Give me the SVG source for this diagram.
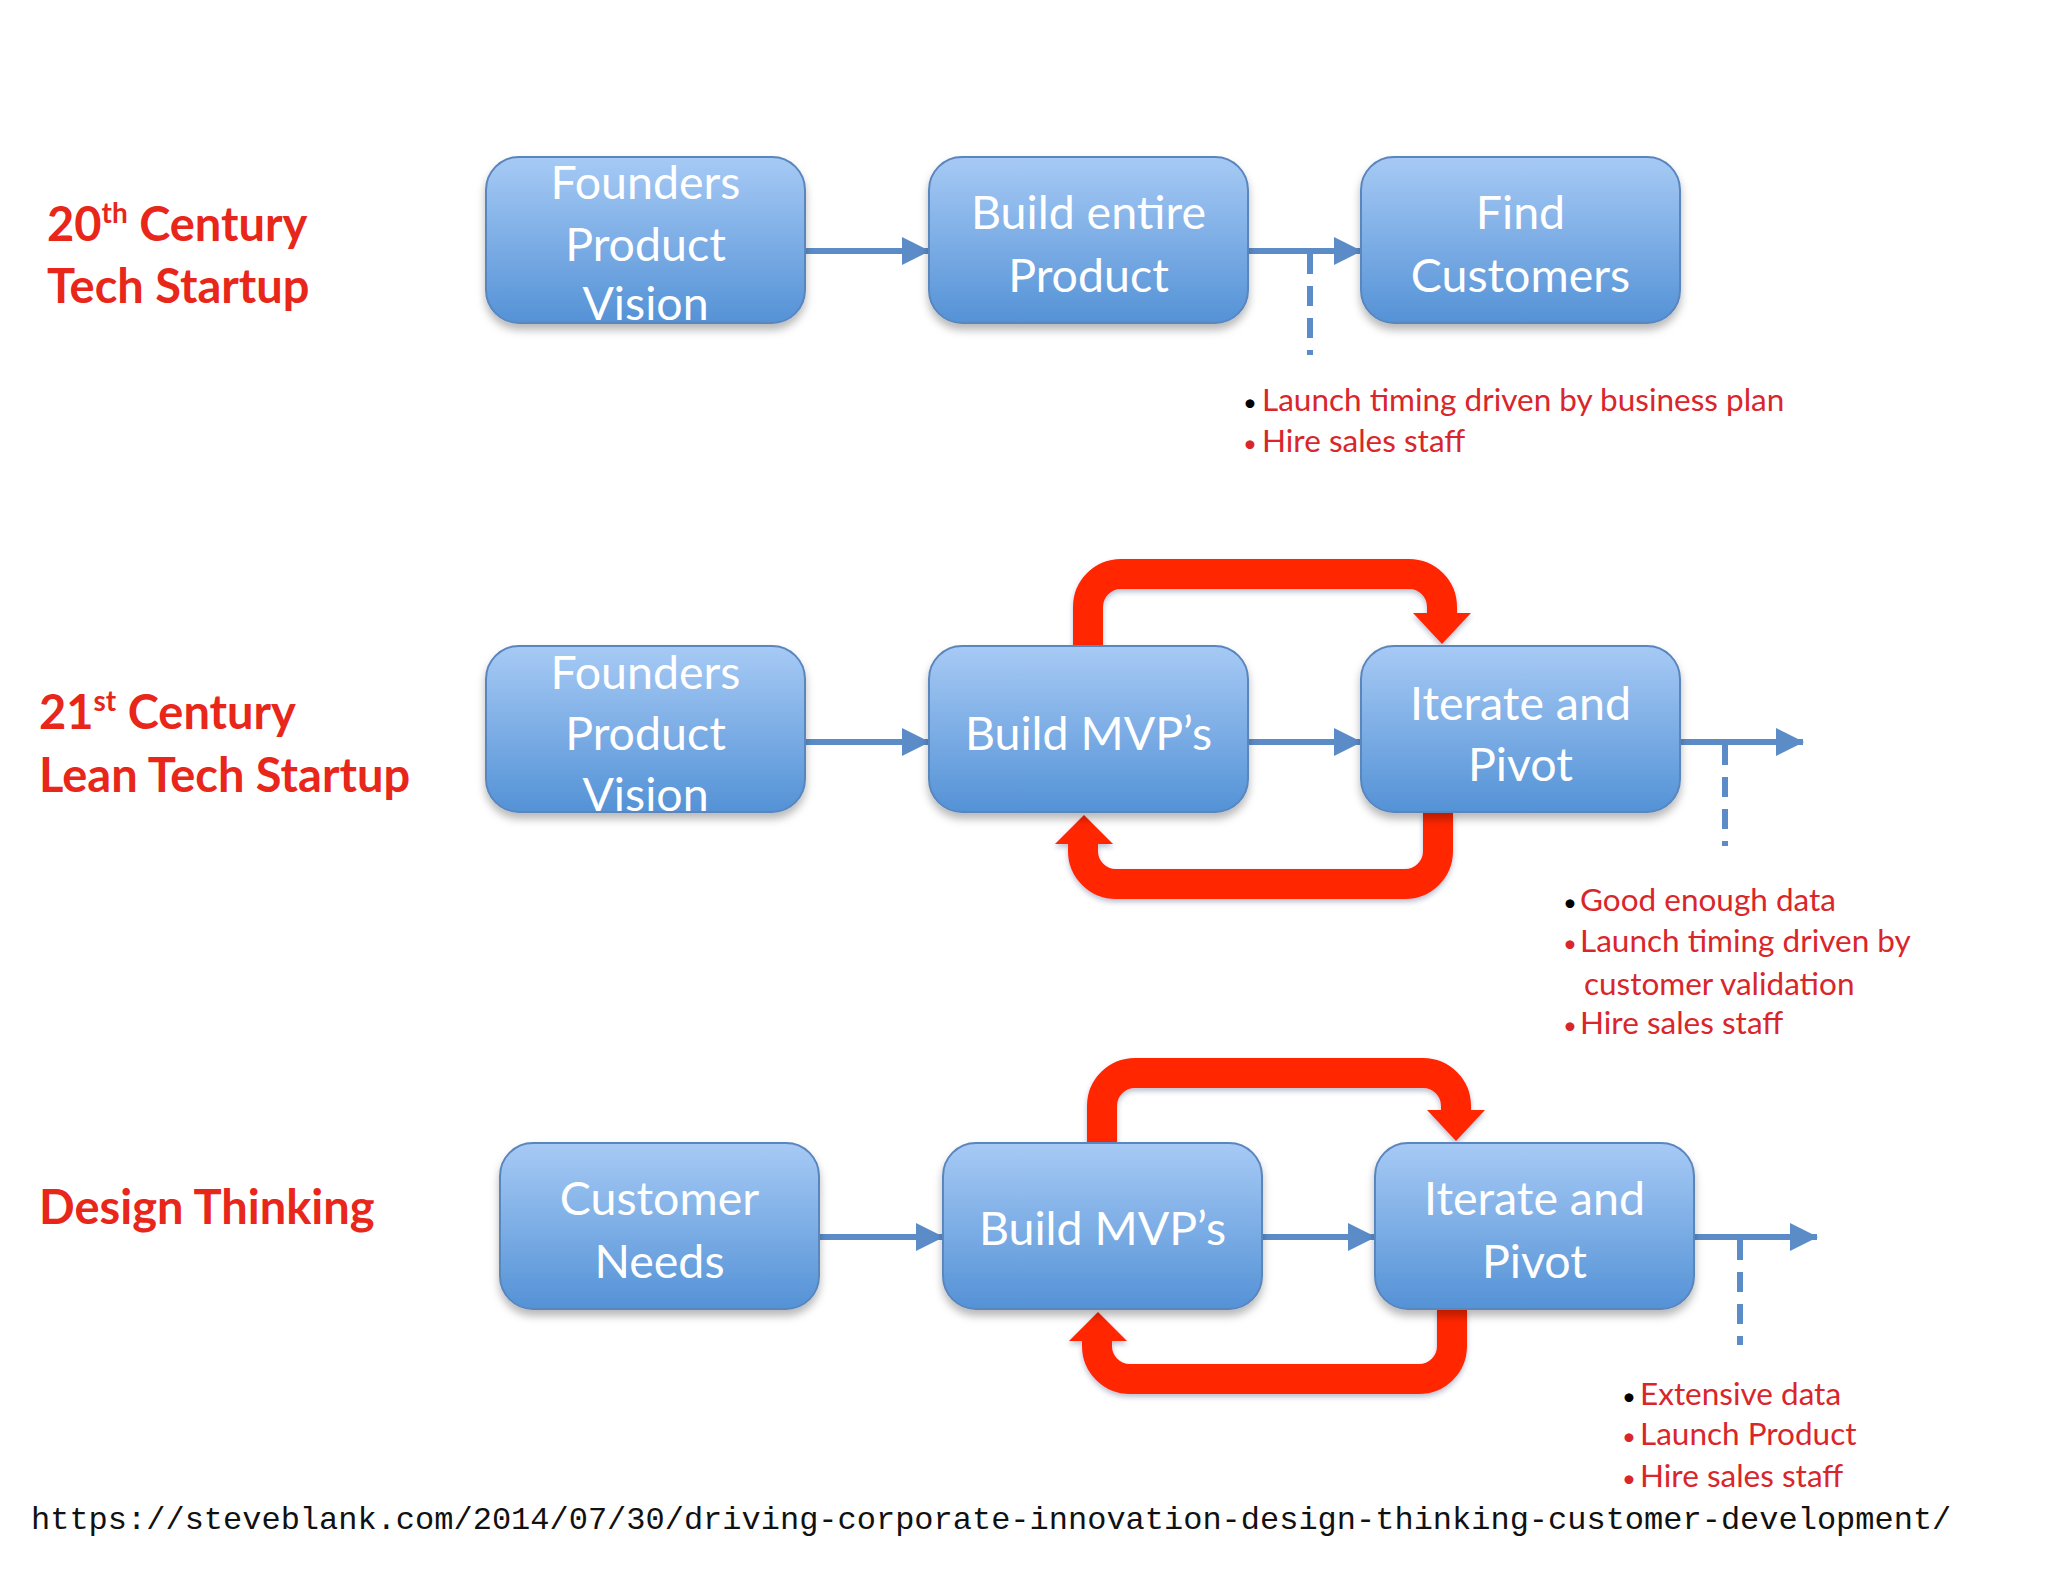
<svg xmlns="http://www.w3.org/2000/svg" width="2048" height="1582" viewBox="0 0 2048 1582">
<defs>
<linearGradient id="boxGrad" x1="0" y1="0" x2="0" y2="1">
<stop offset="0" stop-color="#a7caf5"/>
<stop offset="1" stop-color="#5492d6"/>
</linearGradient>
<filter id="shadow" x="-10%" y="-10%" width="120%" height="135%">
<feDropShadow dx="0" dy="6" stdDeviation="4" flood-color="#000" flood-opacity="0.28"/>
</filter>
<filter id="rshadow" x="-10%" y="-10%" width="120%" height="135%">
<feDropShadow dx="0" dy="3" stdDeviation="2.5" flood-color="#203060" flood-opacity="0.3"/>
</filter>
<marker id="blueHead" markerUnits="userSpaceOnUse" viewBox="0 0 28 28" refX="27" refY="14" markerWidth="28" markerHeight="28" orient="auto">
<path d="M0,0 L28,14 L0,28 z" fill="#5b8cc8"/>
</marker>
<style>
.box{fill:url(#boxGrad);stroke:#5a86be;stroke-width:2;filter:url(#shadow)}
.bt{font-family:Lato,"Liberation Sans",sans-serif;font-size:46.5px;fill:#ffffff;text-anchor:middle}
.lbl{font-family:Lato,"Liberation Sans",sans-serif;font-weight:bold;font-size:47px;fill:#e8261a}
.bul{font-family:Lato,"Liberation Sans",sans-serif;font-size:31.5px;fill:#d9262b}
.dot{font-size:24px}
.blk{fill:#000000}
.url{font-family:"Liberation Mono","DejaVu Sans Mono",monospace;font-size:32px;fill:#111111}
.flow{stroke:#5b8cc8;stroke-width:6;fill:none;marker-end:url(#blueHead)}
.dash{stroke:#5b8cc8;stroke-width:6;stroke-dasharray:20 12;fill:none}
.loop{stroke:#ff2600;stroke-width:30;fill:none}
.lh{fill:#ff2600}
</style>
</defs>
<rect width="2048" height="1582" fill="#ffffff"/>

<!-- Row labels -->
<g id="label-20th">
<text class="lbl" x="47" y="241">20<tspan font-size="28" dy="-18">th</tspan><tspan dy="18"> Century</tspan></text>
<text class="lbl" x="47" y="303">Tech Startup</text>
</g>
<g id="label-21st">
<text class="lbl" x="39" y="729">21<tspan font-size="28" dy="-18">st</tspan><tspan dy="18"> Century</tspan></text>
<text class="lbl" x="39" y="792">Lean Tech Startup</text>
</g>
<g id="label-design">
<text class="lbl" x="39" y="1224">Design Thinking</text>
</g>

<!-- Connectors -->
<g id="connectors">
<g filter="url(#rshadow)">
<path class="loop" d="M1088,646 V607 A33,33 0 0 1 1121,574 H1409 A33,33 0 0 1 1442,607 V615"/>
<polygon class="lh" points="1413,613 1471,613 1442,644"/>
<path class="loop" d="M1438,812 V851 A33,33 0 0 1 1405,884 H1116 A33,33 0 0 1 1083,851 V842"/>
<polygon class="lh" points="1055,844 1113,844 1084,815"/>
<path class="loop" d="M1102,1143 V1106 A33,33 0 0 1 1135,1073 H1423 A33,33 0 0 1 1456,1106 V1112"/>
<polygon class="lh" points="1427,1110 1485,1110 1456,1141"/>
<path class="loop" d="M1452,1309 V1346 A33,33 0 0 1 1419,1379 H1130 A33,33 0 0 1 1097,1346 V1339"/>
<polygon class="lh" points="1069,1341 1127,1341 1098,1312"/>
</g>
<line class="flow" x1="806" y1="251" x2="929" y2="251"/>
<line class="flow" x1="1247" y1="251" x2="1361" y2="251"/>
<line class="dash" x1="1310" y1="254" x2="1310" y2="355"/>
<line class="flow" x1="806" y1="742" x2="929" y2="742"/>
<line class="flow" x1="1247" y1="742" x2="1361" y2="742"/>
<line class="flow" x1="1680" y1="742" x2="1803" y2="742"/>
<line class="dash" x1="1725" y1="745" x2="1725" y2="846"/>
<line class="flow" x1="820" y1="1237" x2="943" y2="1237"/>
<line class="flow" x1="1262" y1="1237" x2="1375" y2="1237"/>
<line class="flow" x1="1694" y1="1237" x2="1817" y2="1237"/>
<line class="dash" x1="1740" y1="1240" x2="1740" y2="1345"/>
</g>

<!-- Row 1 nodes -->
<g id="r1-founders">
<rect class="box" x="486" y="157" width="319" height="166" rx="33"/>
<text class="bt" x="645.5" y="199">Founders</text>
<text class="bt" x="645.5" y="261">Product</text>
<text class="bt" x="645.5" y="320">Vision</text>
</g>
<g id="r1-build">
<rect class="box" x="929" y="157" width="319" height="166" rx="33"/>
<text class="bt" x="1088.5" y="229">Build entire</text>
<text class="bt" x="1088.5" y="292">Product</text>
</g>
<g id="r1-find">
<rect class="box" x="1361" y="157" width="319" height="166" rx="33"/>
<text class="bt" x="1520.5" y="229">Find</text>
<text class="bt" x="1520.5" y="292">Customers</text>
</g>
<g id="r1-notes">
<text class="bul" x="1243" y="411"><tspan class="blk dot">•</tspan><tspan x="1262">Launch timing driven by business plan</tspan></text>
<text class="bul" x="1243" y="452"><tspan class="dot">•</tspan><tspan x="1262">Hire sales staff</tspan></text>
</g>

<!-- Row 2 nodes -->
<g id="r2-founders">
<rect class="box" x="486" y="646" width="319" height="166" rx="33"/>
<text class="bt" x="645.5" y="689">Founders</text>
<text class="bt" x="645.5" y="750">Product</text>
<text class="bt" x="645.5" y="811">Vision</text>
</g>
<g id="r2-build">
<rect class="box" x="929" y="646" width="319" height="166" rx="33"/>
<text class="bt" x="1088.5" y="750">Build MVP’s</text>
</g>
<g id="r2-iterate">
<rect class="box" x="1361" y="646" width="319" height="166" rx="33"/>
<text class="bt" x="1520.5" y="720">Iterate and</text>
<text class="bt" x="1520.5" y="781">Pivot</text>
</g>
<g id="r2-notes">
<text class="bul" x="1563" y="911"><tspan class="blk dot">•</tspan><tspan x="1580">Good enough data</tspan></text>
<text class="bul" x="1563" y="952"><tspan class="dot">•</tspan><tspan x="1580">Launch timing driven by</tspan></text>
<text class="bul" x="1584" y="995">customer validation</text>
<text class="bul" x="1563" y="1034"><tspan class="dot">•</tspan><tspan x="1580">Hire sales staff</tspan></text>
</g>

<!-- Row 3 nodes -->
<g id="r3-customer">
<rect class="box" x="500" y="1143" width="319" height="166" rx="33"/>
<text class="bt" x="659.5" y="1215">Customer</text>
<text class="bt" x="659.5" y="1278">Needs</text>
</g>
<g id="r3-build">
<rect class="box" x="943" y="1143" width="319" height="166" rx="33"/>
<text class="bt" x="1102.5" y="1245">Build MVP’s</text>
</g>
<g id="r3-iterate">
<rect class="box" x="1375" y="1143" width="319" height="166" rx="33"/>
<text class="bt" x="1534.5" y="1215">Iterate and</text>
<text class="bt" x="1534.5" y="1278">Pivot</text>
</g>
<g id="r3-notes">
<text class="bul" x="1622" y="1405"><tspan class="blk dot">•</tspan><tspan x="1640">Extensive data</tspan></text>
<text class="bul" x="1622" y="1445"><tspan class="dot">•</tspan><tspan x="1640">Launch Product</tspan></text>
<text class="bul" x="1622" y="1487"><tspan class="dot">•</tspan><tspan x="1640">Hire sales staff</tspan></text>
</g>

<g id="source-url">
<text class="url" x="31" y="1529">https://steveblank.com/2014/07/30/driving-corporate-innovation-design-thinking-customer-development/</text>
</g>
</svg>
